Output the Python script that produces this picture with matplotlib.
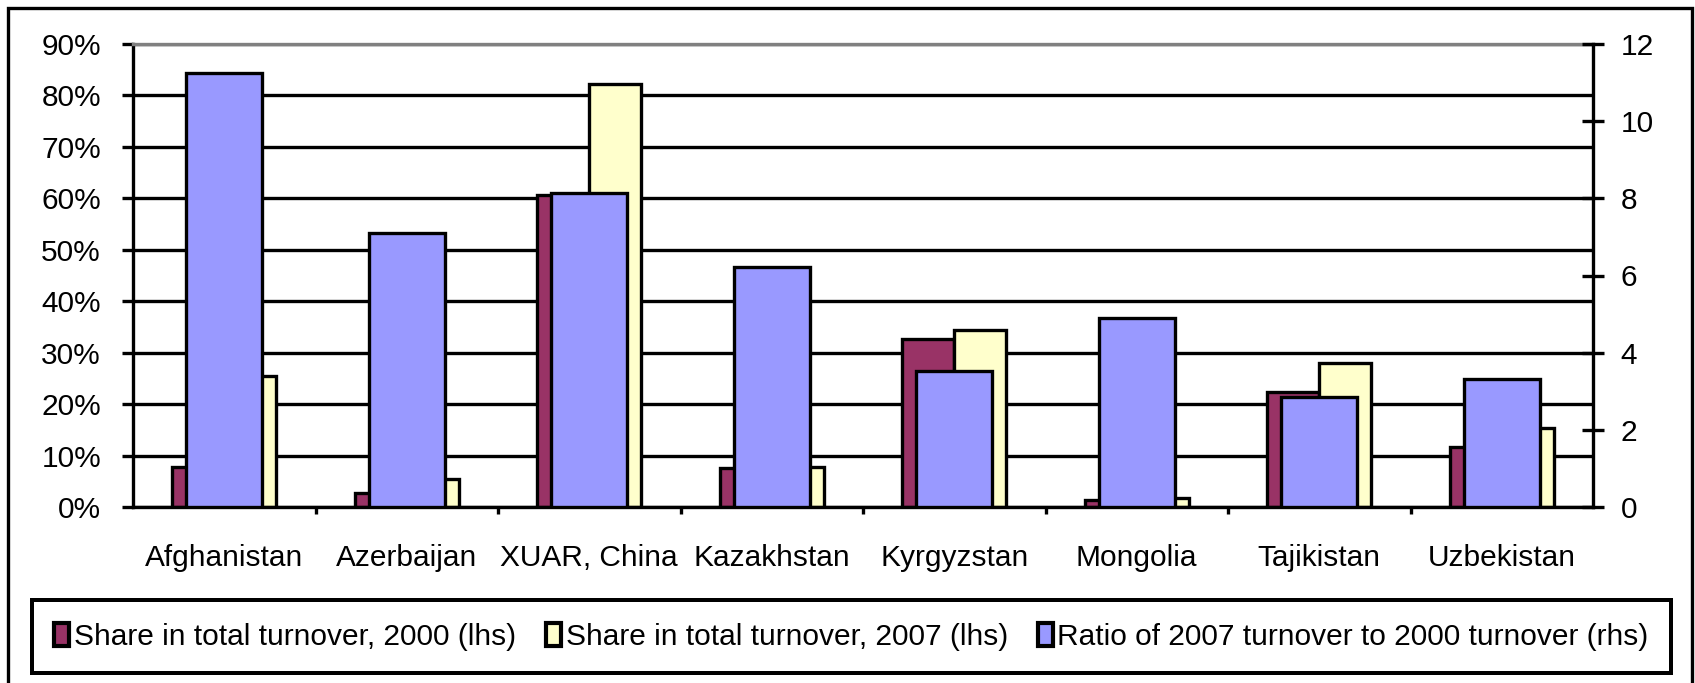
"""
Trade shares and turnover ratio, Central Asian partners.
Two bars on the lhs (share 2000 / 2007), one bar on the rhs (ratio).
"""

import numpy as np
import matplotlib
matplotlib.use("Agg")
import matplotlib.pyplot as plt
import matplotlib.patches as patches
from matplotlib.ticker import PercentFormatter

# data
landen = ["Afghanistan", "Azerbaijan", "XUAR, China", "Kazakhstan",
          "Kyrgyzstan", "Mongolia", "Tajikistan", "Uzbekistan"]
aandeel_2000 = [0.078, 0.027, 0.607, 0.075, 0.326, 0.014, 0.223, 0.116]
aandeel_2007 = [0.255, 0.055, 0.822, 0.078, 0.344, 0.018, 0.279, 0.153]
ratio = [11.26, 7.09, 8.14, 6.21, 3.53, 4.91, 2.86, 3.33]

labels = ["Share in total turnover, 2000 (lhs)",
          "Share in total turnover, 2007 (lhs)",
          "Ratio of 2007 turnover to 2000 turnover (rhs)"]

kleur_2000 = "#993366"
kleur_2007 = "#FFFFCC"
kleur_ratio = "#9999FF"

plt.rcParams["font.family"] = ["Liberation Sans", "DejaVu Sans"]
plt.rcParams["font.size"] = 21.5

fig = plt.figure(figsize=(16.95, 6.83), dpi=100)
ax = fig.add_axes([133 / 1695, 176 / 683, 1460 / 1695, 463 / 683])
ax2 = ax.twinx()

x = np.arange(len(landen))
b = 0.285
lw = 2.4

ax.bar(x - b / 2, aandeel_2000, b, color=kleur_2000, edgecolor="black",
       linewidth=lw, label=labels[0], zorder=2)
ax.bar(x + b / 2, aandeel_2007, b, color=kleur_2007, edgecolor="black",
       linewidth=lw, label=labels[1], zorder=2)
ax2.bar(x, ratio, 0.415, color=kleur_ratio, edgecolor="black",
        linewidth=lw, label=labels[2], zorder=2)

# linker as
ax.set_xlim(-0.5, len(landen) - 0.5)
ax.set_ylim(0, 0.9)
ax.set_yticks(np.arange(0, 0.91, 0.1))
ax.yaxis.set_major_formatter(PercentFormatter(1.0, decimals=0))
ax.yaxis.grid(True, color="black", linewidth=lw)
ax.set_axisbelow(True)
ax.tick_params(axis="y", direction="out", length=8, width=lw, pad=15)

ax.set_xticks(x)
ax.set_xticklabels(landen)
ax.set_xticks(x[:-1] + 0.5, minor=True)
ax.tick_params(axis="x", which="major", length=0, pad=27)
ax.tick_params(axis="x", which="minor", direction="out", length=5, width=lw)

for kant in ["left", "bottom"]:
    ax.spines[kant].set_linewidth(lw)
    ax.spines[kant].set_color("black")
ax.spines["top"].set_color("#808080")
ax.spines["top"].set_linewidth(lw)
ax.spines["right"].set_visible(False)

# rechter as
ax2.set_ylim(0, 12)
ax2.set_yticks(np.arange(0, 13, 2))
ax2.tick_params(axis="y", direction="inout", length=16, width=lw, pad=12)
for kant in ["left", "bottom", "top"]:
    ax2.spines[kant].set_visible(False)
ax2.spines["right"].set_linewidth(lw)
ax2.spines["right"].set_color("black")

# legenda
handles = ax.get_legend_handles_labels()[0] + ax2.get_legend_handles_labels()[0]
leg = fig.legend(handles, labels, loc="lower left", ncol=3, mode="expand",
                 bbox_to_anchor=(32 / 1695, 10 / 683, 1639 / 1695, 81 / 683),
                 fancybox=False, framealpha=1, edgecolor="black",
                 handlelength=0.5, handleheight=0.8, handletextpad=0.15,
                 borderaxespad=0, borderpad=0.75, fontsize=21.5)
leg.get_frame().set_linewidth(lw * 1.2)
for h in leg.legend_handles:
    h.set_linewidth(3)

# kader om de hele figuur
kader = patches.Rectangle((8 / 1695, -0.05), 1684 / 1695, 1.05 - 8 / 683,
                          transform=fig.transFigure, fill=False,
                          edgecolor="black", linewidth=lw)
fig.patches.append(kader)

fig.savefig("out.png", dpi=100)
